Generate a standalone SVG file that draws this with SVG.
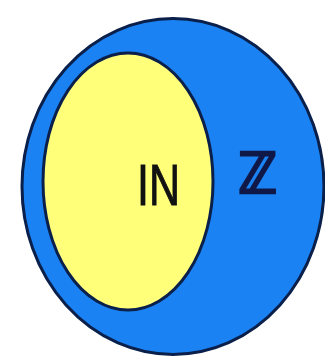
<svg xmlns="http://www.w3.org/2000/svg" width="325" height="360" viewBox="0 0 325 360">
<style>
.set{stroke:#0a1f4a;stroke-width:3}
.lbl{font-family:"DejaVu Sans","Liberation Sans",sans-serif;font-weight:bold}
</style>
<rect width="325" height="360" fill="#ffffff"/>
<g id="Z">
<ellipse class="set" cx="173" cy="186.5" rx="151" ry="168" fill="#1a82f2"/>
<text class="lbl" x="238" y="193" font-size="56" fill="#101848" stroke="#101848" stroke-width="2.5" textLength="39" lengthAdjust="spacingAndGlyphs">ℤ</text>
</g>
<g id="N">
<ellipse class="set" cx="128" cy="181.5" rx="85" ry="128.5" fill="#ffff7a"/>
<text x="137" y="205" font-family="Liberation Sans, sans-serif" font-size="58" fill="#111111" stroke="#111111" stroke-width="1" textLength="43" lengthAdjust="spacingAndGlyphs">IN</text>
</g>
</svg>
